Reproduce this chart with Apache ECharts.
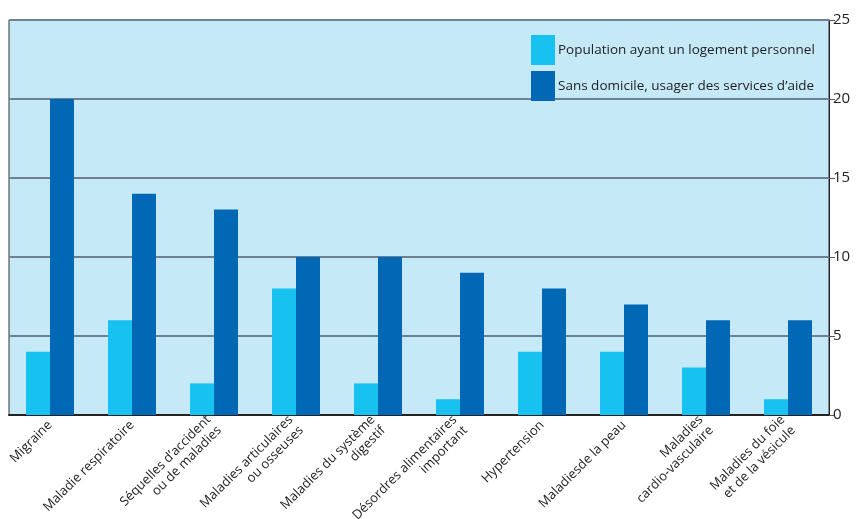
<!DOCTYPE html>
<html>
<head>
<meta charset="utf-8">
<script src="https://cdn.jsdelivr.net/npm/echarts@6/dist/echarts.min.js"></script>
<style>
  html, body { margin: 0; padding: 0; background: #fff; }
  #chart { width: 860px; height: 519px; }
</style>
</head>
<body>
<div id="chart"></div>
<script>
// categories as printed under the axis
var categories = [
  'Migraine',
  'Maladie respiratoire',
  'Séquelles d\u2019accident\nou de maladies',
  'Maladies articulaires\nou osseuses',
  'Maladies du système\ndigestif',
  'Désordres alimentaires\nimportant',
  'Hypertension',
  'Maladiesde la peau',
  'Maladies\ncardio-vasculaire',
  'Maladies du foie\net de la vésicule'
];
var logement = [4, 6, 2, 8, 2, 1, 4, 4, 3, 1];
var sansDomicile = [20, 14, 13, 10, 10, 9, 8, 7, 6, 6];
var seriesNames = ['Population ayant un logement personnel', 'Sans domicile, usager des services d\u2019aide'];

var font = '"Open Sans", "Noto Sans", sans-serif';
var chart = echarts.init(document.getElementById('chart'));

chart.setOption({
  animation: false,
  textStyle: { fontFamily: font },
  legend: {
    orient: 'vertical',
    left: 526,
    top: 30,
    icon: 'rect',
    itemWidth: 24,
    itemHeight: 30,
    itemGap: 6,
    textStyle: { fontSize: 13.5, color: '#222', fontFamily: font, padding: [0, 0, 0, -2] },
    data: seriesNames
  },
  grid: {
    left: 9, right: 31, top: 20, bottom: 104,
    outerBoundsMode: 'none',
    containLabel: false,
    show: true,
    backgroundColor: '#c6e9f8',
    borderColor: '#333',
    borderWidth: 1
  },
  xAxis: {
    type: 'category',
    data: categories,
    axisLine: { lineStyle: { color: '#222', width: 2 } },
    axisTick: { length: 6, lineStyle: { color: '#777' } },
    axisLabel: {
      rotate: 45, interval: 0, fontSize: 13, color: '#222',
      lineHeight: 15, margin: 8, align: 'right'
    }
  },
  yAxis: {
    type: 'value',
    position: 'right',
    min: 0, max: 25, interval: 5,
    axisLine: { show: true, lineStyle: { color: '#222', width: 1 } },
    axisTick: { show: true, length: 6, lineStyle: { color: '#555' } },
    axisLabel: { fontSize: 15, color: '#222', margin: 4 },
    splitLine: { lineStyle: { color: '#6f8190', width: 2 } }
  },
  series: [
    {
      name: seriesNames[0], type: 'bar', data: logement,
      barWidth: 24, barGap: '0%',
      itemStyle: { color: '#17c2f0' }
    },
    {
      name: seriesNames[1], type: 'bar', data: sansDomicile,
      barWidth: 24, barGap: '0%',
      itemStyle: { color: '#0068b4' }
    }
  ]
});
</script>
</body>
</html>
